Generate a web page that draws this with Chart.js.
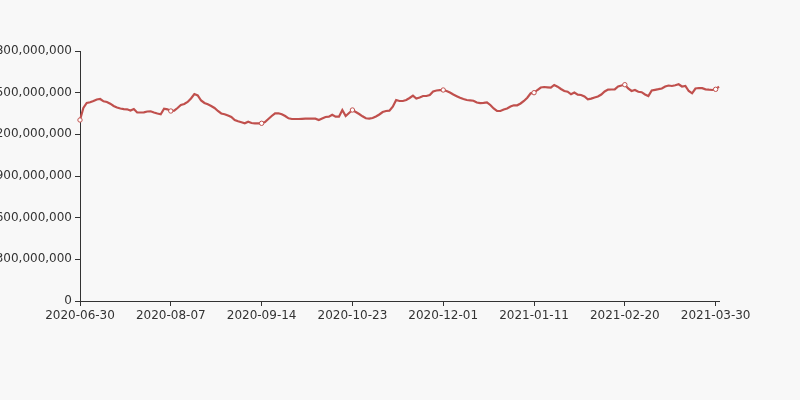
<!DOCTYPE html>
<html>
<head>
<meta charset="utf-8">
<script src="https://cdn.jsdelivr.net/npm/chart.js@4/dist/chart.umd.min.js"></script>
<style>
html,body{margin:0;padding:0;background:#f8f8f8;}
#wrap{width:800px;height:400px;}
</style>
</head>
<body>
<div id="wrap"><canvas id="c" width="800" height="400"></canvas></div>
<script>
const dates = [
"2020-06-30",
"2020-07-01","2020-07-02","2020-07-06","2020-07-07","2020-07-08","2020-07-09","2020-07-10","2020-07-13","2020-07-14","2020-07-15","2020-07-16","2020-07-17","2020-07-20","2020-07-21","2020-07-22","2020-07-23","2020-07-24","2020-07-27","2020-07-28","2020-07-29","2020-07-30","2020-07-31","2020-08-03","2020-08-04","2020-08-05","2020-08-06","2020-08-07",
"2020-08-10","2020-08-11","2020-08-12","2020-08-13","2020-08-14","2020-08-17","2020-08-18","2020-08-19","2020-08-20","2020-08-21","2020-08-24","2020-08-25","2020-08-26","2020-08-27","2020-08-28","2020-08-31","2020-09-01","2020-09-02","2020-09-03","2020-09-04","2020-09-07","2020-09-08","2020-09-09","2020-09-10","2020-09-11","2020-09-12","2020-09-14",
"2020-09-15","2020-09-16","2020-09-17","2020-09-18","2020-09-21","2020-09-22","2020-09-23","2020-09-24","2020-09-25","2020-09-28","2020-09-29","2020-09-30","2020-10-05","2020-10-06","2020-10-07","2020-10-08","2020-10-09","2020-10-12","2020-10-13","2020-10-14","2020-10-15","2020-10-16","2020-10-19","2020-10-20","2020-10-21","2020-10-22","2020-10-23",
"2020-10-26","2020-10-27","2020-10-28","2020-10-29","2020-10-30","2020-11-02","2020-11-03","2020-11-04","2020-11-05","2020-11-06","2020-11-09","2020-11-10","2020-11-11","2020-11-12","2020-11-13","2020-11-16","2020-11-17","2020-11-18","2020-11-19","2020-11-20","2020-11-23","2020-11-24","2020-11-25","2020-11-26","2020-11-27","2020-11-30","2020-12-01",
"2020-12-02","2020-12-03","2020-12-04","2020-12-07","2020-12-08","2020-12-09","2020-12-10","2020-12-11","2020-12-14","2020-12-15","2020-12-16","2020-12-17","2020-12-18","2020-12-21","2020-12-22","2020-12-23","2020-12-24","2020-12-28","2020-12-29","2020-12-30","2020-12-31","2021-01-04","2021-01-05","2021-01-06","2021-01-07","2021-01-08","2021-01-11",
"2021-01-12","2021-01-13","2021-01-14","2021-01-15","2021-01-19","2021-01-20","2021-01-21","2021-01-22","2021-01-25","2021-01-26","2021-01-27","2021-01-28","2021-01-29","2021-02-01","2021-02-02","2021-02-03","2021-02-04","2021-02-05","2021-02-08","2021-02-09","2021-02-10","2021-02-11","2021-02-16","2021-02-17","2021-02-18","2021-02-19","2021-02-20",
"2021-02-22","2021-02-23","2021-02-24","2021-02-25","2021-02-26","2021-03-01","2021-03-02","2021-03-03","2021-03-04","2021-03-05","2021-03-08","2021-03-09","2021-03-10","2021-03-11","2021-03-12","2021-03-15","2021-03-16","2021-03-17","2021-03-18","2021-03-19","2021-03-22","2021-03-23","2021-03-24","2021-03-25","2021-03-26","2021-03-29","2021-03-30",
"2021-03-31"
];

const values = [
1303.2e6,1389.6e6,1425.6e6,1430.6e6,1440.0e6,1450.8e6,1454.4e6,1437.8e6,1432.8e6,1420.6e6,
1404.0e6,1393.2e6,1386.0e6,1381.7e6,1380.2e6,1371.6e6,1382.4e6,1357.2e6,1357.2e6,1358.6e6,
1364.4e6,1365.8e6,1357.2e6,1350.0e6,1344.2e6,1384.6e6,1380.2e6,1368.0e6,1370.2e6,1389.6e6,
1411.2e6,1418.4e6,1432.8e6,1458.0e6,1490.4e6,1479.6e6,1443.6e6,1425.6e6,1416.2e6,1404.0e6,
1389.6e6,1368.0e6,1350.0e6,1345.0e6,1335.6e6,1324.8e6,1303.2e6,1293.8e6,1286.6e6,1279.4e6,
1291.0e6,1281.6e6,1279.4e6,1279.4e6,1279.4e6,1288.8e6,1310.4e6,1332.0e6,1351.4e6,1351.4e6,
1344.2e6,1332.0e6,1315.4e6,1310.4e6,1310.4e6,1310.4e6,1311.8e6,1312.6e6,1312.6e6,1312.6e6,
1312.6e6,1303.2e6,1314.0e6,1324.8e6,1327.0e6,1341.4e6,1327.0e6,1327.0e6,1375.2e6,1332.0e6,
1353.6e6,1375.2e6,1360.8e6,1346.4e6,1329.8e6,1315.4e6,1312.6e6,1317.6e6,1328.4e6,1342.8e6,
1360.8e6,1368.0e6,1370.2e6,1399.0e6,1447.2e6,1440.0e6,1440.0e6,1447.2e6,1461.6e6,1478.2e6,
1458.0e6,1465.2e6,1476.0e6,1476.0e6,1483.2e6,1508.4e6,1515.6e6,1517.8e6,1519.2e6,1512.0e6,
1501.2e6,1486.8e6,1474.6e6,1463.0e6,1454.4e6,1447.2e6,1445.0e6,1442.2e6,1429.2e6,1424.2e6,
1427.0e6,1430.6e6,1411.2e6,1386.0e6,1369.4e6,1368.0e6,1378.8e6,1386.0e6,1400.4e6,1409.0e6,
1409.0e6,1422.0e6,1440.0e6,1463.8e6,1495.4e6,1499.8e6,1519.2e6,1537.2e6,1540.8e6,1538.6e6,
1535.8e6,1555.2e6,1543.0e6,1526.4e6,1512.0e6,1507.0e6,1488.2e6,1501.2e6,1485.4e6,1483.2e6,
1472.4e6,1452.2e6,1457.3e6,1465.2e6,1472.4e6,1486.8e6,1508.4e6,1522.1e6,1522.8e6,1524.2e6,
1544.4e6,1551.6e6,1557.4e6,1530.0e6,1512.0e6,1519.2e6,1506.2e6,1503.4e6,1486.8e6,1476.0e6,
1515.6e6,1520.6e6,1525.0e6,1530.0e6,1544.4e6,1551.6e6,1548.0e6,1553.0e6,1560.2e6,1544.4e6,
1548.0e6,1512.0e6,1495.4e6,1530.0e6,1533.6e6,1532.2e6,1524.2e6,1521.4e6,1519.2e6,1524.2e6,
1543.0e6
];

// indices of the labelled x ticks (and marked points)
const tickIndices = [0, 27, 54, 81, 108, 135, 162, 189];
const yTicks = [0, 300000000, 600000000, 900000000, 1200000000, 1500000000, 1800000000];

const lineColor = '#c0504d';
const axisColor = '#333333';
const textColor = '#333333';

new Chart(document.getElementById('c'), {
  type: 'line',
  data: {
    labels: dates,
    datasets: [{
      data: values,
      borderColor: lineColor,
      borderWidth: 2.2,
      tension: 0,
      pointRadius: ctx => tickIndices.includes(ctx.dataIndex) ? 2.2 : 0,
      pointBackgroundColor: '#ffffff',
      pointBorderColor: lineColor,
      pointBorderWidth: 1,
      fill: false
    }]
  },
  options: {
    responsive: false,
    animation: false,
    devicePixelRatio: 1,
    layout: { padding: { top: 51, right: 81, bottom: 0, left: 0 } },
    plugins: { legend: { display: false }, tooltip: { enabled: false } },
    scales: {
      x: {
        type: 'category',
        offset: false,
        grid: { display: true, drawOnChartArea: false, drawTicks: true, tickLength: 5, color: axisColor },
        border: { display: true, color: axisColor, width: 1 },
        ticks: {
          autoSkip: false, maxRotation: 0, minRotation: 0,
          color: textColor, padding: 3,
          font: { family: 'DejaVu Sans', size: 12 }
        },
        afterBuildTicks: scale => {
          scale.ticks = scale.ticks.filter(t => tickIndices.includes(t.value));
        },
        afterFit: scale => { scale.height = 99; }
      },
      y: {
        min: 0, max: 1800000000,
        grid: { display: true, drawOnChartArea: false, drawTicks: true, tickLength: 5, color: axisColor },
        border: { display: true, color: axisColor, width: 1 },
        ticks: {
          color: textColor, padding: 3,
          font: { family: 'DejaVu Sans', size: 12 },
          callback: v => Number(v).toLocaleString('en-US')
        },
        afterBuildTicks: scale => {
          scale.ticks = yTicks.map(v => ({ value: v }));
        },
        afterFit: scale => { scale.width = 80; }
      }
    }
  }
});
</script>
</body>
</html>
